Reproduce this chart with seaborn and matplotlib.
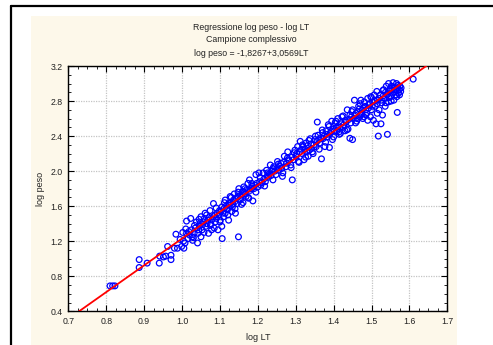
import matplotlib
matplotlib.use("Agg")
import matplotlib.pyplot as plt
import matplotlib.ticker as mticker
from matplotlib.patches import Rectangle
from matplotlib.lines import Line2D
import numpy as np
import pandas as pd
import seaborn as sns

# ---- data ----
log_lt = [
    0.810, 0.817, 0.823, 0.887, 0.887, 0.908, 0.940, 0.941, 0.951, 0.957,
    0.962, 0.971, 0.971, 0.980, 0.984, 0.988, 0.995, 1.002, 0.999, 1.005,
    1.008, 1.012, 1.023, 1.012, 1.016, 1.020, 1.025, 1.028, 1.032, 1.041,
    1.035, 1.038, 1.042, 1.046, 1.050, 1.050, 1.053, 1.057, 1.061, 1.063,
    1.068, 1.070, 1.074, 1.076, 1.078, 1.083, 1.083, 1.085, 1.088, 1.093,
    1.095, 1.099, 1.101, 1.105, 1.106, 1.105, 1.110, 1.114, 1.114, 1.118,
    1.123, 1.123, 1.127, 1.131, 1.133, 1.136, 1.138, 1.141, 1.145, 1.149,
    1.147, 1.150, 1.154, 1.158, 1.161, 1.163, 1.165, 1.169, 1.174, 1.176,
    1.178, 1.183, 1.187, 1.192, 1.195, 1.200, 1.203, 1.205, 1.211, 1.214,
    1.223, 1.225, 1.233, 1.237, 1.242, 1.248, 1.252, 1.265, 1.256, 1.261,
    1.270, 1.274, 1.279, 1.280, 1.291, 1.287, 1.298, 1.301, 1.305, 1.307,
    1.312, 1.317, 1.320, 1.322, 1.327, 1.329, 1.333, 1.338, 1.342, 1.346,
    1.351, 1.357, 1.354, 1.359, 1.363, 1.368, 1.371, 1.372, 1.377, 1.380,
    1.382, 1.386, 1.389, 1.391, 1.395, 1.398, 1.400, 1.404, 1.409, 1.411,
    1.416, 1.418, 1.422, 1.427, 1.431, 1.436, 1.438, 1.443, 1.443, 1.445,
    1.450, 1.450, 1.452, 1.455, 1.459, 1.461, 1.466, 1.469, 1.472, 1.475,
    1.477, 1.481, 1.484, 1.487, 1.490, 1.494, 1.497, 1.498, 1.500, 1.503,
    1.505, 1.507, 1.510, 1.512, 1.514, 1.516, 1.518, 1.520, 1.523, 1.525,
    1.527, 1.529, 1.532, 1.534, 1.536, 1.539, 1.541, 1.542, 1.545, 1.545,
    1.548, 1.551, 1.553, 1.555, 1.557, 1.559, 1.562, 1.564, 1.566, 1.568,
    1.569, 1.571, 1.240, 1.610, 1.018, 1.027, 1.033, 1.044, 1.048, 1.055,
    1.059, 1.066, 1.072, 1.080, 1.087, 1.091, 1.097, 1.103, 1.108, 1.112,
    1.116, 1.120, 1.125, 1.129, 1.134, 1.139, 1.143, 1.152, 1.156, 1.160,
    1.167, 1.171, 1.180, 1.185, 1.190, 1.197, 1.208, 1.216, 1.220, 1.228,
    1.230, 1.235, 1.245, 1.250, 1.258, 1.263, 1.268, 1.276, 1.283, 1.290,
    1.294, 1.303, 1.310, 1.315, 1.325, 1.331, 1.336, 1.340, 1.348, 1.356,
    1.361, 1.366, 1.375, 1.384, 1.393, 1.402, 1.407, 1.413, 1.420, 1.425,
    1.433, 1.440, 1.447, 1.457, 1.463, 1.468, 1.474, 1.479, 1.485, 1.492,
    1.496, 1.502, 1.509, 1.515, 1.521, 1.526, 1.531, 1.537, 1.543, 1.549,
    1.554, 1.560, 1.565, 1.570, 1.573, 1.575, 1.577, 1.574, 1.578, 1.567,
    1.560, 1.552, 1.546, 1.538, 1.480, 1.490, 1.470, 1.462, 1.430, 1.415,
    1.004, 1.010, 1.030, 1.045, 1.058, 1.065, 1.075, 1.090, 1.100, 1.112,
    1.121, 1.130, 1.140, 1.148, 1.157, 1.166, 1.175, 1.184, 1.195, 1.206,
    1.218, 1.226, 1.240, 1.254, 1.266, 1.278, 1.288, 1.296, 1.309, 1.318,
    1.326, 1.335, 1.344, 1.352, 1.362, 1.370, 1.379, 1.388, 1.397, 1.406,
    1.415, 1.425, 1.435, 1.448, 1.458, 1.470, 1.485, 1.500, 1.515, 1.530,
]
log_peso = [
    0.69, 0.69, 0.69, 0.99, 0.90, 0.95, 0.95, 1.03, 1.02, 1.03,
    1.14, 0.99, 1.04, 1.12, 1.28, 1.12, 1.22, 1.30, 1.14, 1.12,
    1.18, 1.43, 1.46, 1.29, 1.23, 1.27, 1.33, 1.21, 1.29, 1.18,
    1.35, 1.42, 1.29, 1.37, 1.48, 1.25, 1.33, 1.42, 1.52, 1.37,
    1.44, 1.29, 1.55, 1.40, 1.33, 1.63, 1.48, 1.35, 1.42, 1.52,
    1.33, 1.55, 1.44, 1.37, 1.23, 1.59, 1.48, 1.67, 1.52, 1.57,
    1.63, 1.44, 1.71, 1.54, 1.59, 1.67, 1.74, 1.52, 1.63, 1.25,
    1.71, 1.80, 1.67, 1.73, 1.64, 1.82, 1.76, 1.71, 1.86, 1.69,
    1.90, 1.80, 1.66, 1.84, 1.96, 1.82, 1.98, 1.88, 1.87, 1.98,
    2.01, 1.94, 2.07, 2.00, 2.05, 1.96, 2.11, 1.94, 2.01, 2.09,
    2.17, 2.05, 2.22, 2.13, 1.90, 2.07, 2.24, 2.17, 2.28, 2.11,
    2.34, 2.20, 2.28, 2.13, 2.32, 2.22, 2.17, 2.37, 2.26, 2.20,
    2.36, 2.56, 2.28, 2.41, 2.32, 2.14, 2.44, 2.37, 2.28, 2.46,
    2.39, 2.53, 2.27, 2.43, 2.57, 2.48, 2.39, 2.55, 2.46, 2.60,
    2.50, 2.43, 2.62, 2.53, 2.58, 2.70, 2.48, 2.64, 2.375, 2.55,
    2.36, 2.70, 2.60, 2.81, 2.66, 2.57, 2.74, 2.62, 2.81, 2.70,
    2.60, 2.79, 2.74, 2.66, 2.83, 2.76, 2.62, 2.85, 2.70, 2.79,
    2.58, 2.87, 2.74, 2.54, 2.91, 2.81, 2.40, 2.70, 2.87, 2.54,
    2.78, 2.64, 2.93, 2.83, 2.74, 2.97, 2.87, 2.42, 3.00, 2.79,
    2.91, 2.85, 2.97, 2.89, 3.01, 2.81, 2.93, 2.87, 3.00, 2.67,
    2.95, 2.89, 2.03, 3.05, 1.31, 1.25, 1.38, 1.33, 1.41, 1.39,
    1.46, 1.40, 1.47, 1.45, 1.50, 1.46, 1.50, 1.54, 1.52, 1.58,
    1.60, 1.56, 1.61, 1.64, 1.62, 1.65, 1.69, 1.72, 1.70, 1.77,
    1.74, 1.79, 1.78, 1.83, 1.80, 1.86, 1.84, 1.91, 1.88, 1.93,
    1.97, 1.95, 2.00, 2.03, 2.06, 2.03, 2.10, 2.09, 2.12, 2.16,
    2.13, 2.20, 2.22, 2.25, 2.25, 2.29, 2.24, 2.31, 2.30, 2.34,
    2.36, 2.38, 2.40, 2.42, 2.45, 2.46, 2.50, 2.52, 2.54, 2.50,
    2.56, 2.59, 2.62, 2.64, 2.68, 2.71, 2.66, 2.72, 2.70, 2.72,
    2.77, 2.74, 2.80, 2.77, 2.83, 2.81, 2.86, 2.90, 2.88, 2.94,
    2.93, 2.96, 2.92, 2.98, 2.93, 2.97, 2.91, 2.87, 2.95, 2.85,
    2.90, 2.80, 2.84, 2.78, 2.62, 2.58, 2.64, 2.60, 2.46, 2.45,
    1.20, 1.34, 1.24, 1.45, 1.30, 1.50, 1.38, 1.58, 1.42, 1.64,
    1.50, 1.70, 1.57, 1.76, 1.62, 1.80, 1.70, 1.86, 1.76, 1.93,
    1.83, 1.98, 1.90, 2.08, 1.98, 2.15, 2.04, 2.21, 2.10, 2.30,
    2.16, 2.35, 2.22, 2.40, 2.25, 2.47, 2.33, 2.51, 2.36, 2.57,
    2.42, 2.63, 2.47, 2.68, 2.55, 2.77, 2.64, 2.84, 2.66, 2.92,
]
intercept = -1.8267
slope = 3.0569
line_x = [0.70, 1.70]

title_lines = ["Regressione log peso - log LT",
               "Campione complessivo",
               "log peso = -1,8267+3,0569LT"]
x_ticks = [0.7, 0.8, 0.9, 1.0, 1.1, 1.2, 1.3, 1.4, 1.5, 1.6, 1.7]
y_ticks = [0.4, 0.8, 1.2, 1.6, 2.0, 2.4, 2.8, 3.2]

df = pd.DataFrame({"log LT": log_lt, "log peso": log_peso})
line_df = pd.DataFrame({"x": line_x,
                        "y": [intercept + slope * v for v in line_x]})

sns.set_style("white")
plt.rcParams["font.family"] = ["Liberation Sans", "DejaVu Sans"]

W, H = 493, 345
fig = plt.figure(figsize=(W / 100, H / 100), dpi=100)
fig.patch.set_facecolor("white")

def fx(px):
    return px / W
def fy(py):
    return 1 - py / H

# cream panel and black frame (pixel coordinates)
fig.patches.append(Rectangle((fx(31), 0), fx(457) - fx(31), fy(16),
                             transform=fig.transFigure, facecolor="#fdf8ea",
                             edgecolor="none", zorder=-10))
fig.lines.append(Line2D([fx(11), fx(11)], [0, fy(5.5)], transform=fig.transFigure,
                        color="black", lw=1.6, zorder=-5))
fig.lines.append(Line2D([fx(11), 1], [fy(5.5), fy(5.5)], transform=fig.transFigure,
                        color="black", lw=1.6, zorder=-5))

ax = fig.add_axes([fx(68.3), fy(311.3), fx(447.3) - fx(68.3), fy(66) - fy(311.3)])
ax.set_zorder(1)
ax.set_facecolor("white")

sns.lineplot(data=line_df, x="x", y="y", ax=ax, color="#ff0000", lw=1.3, zorder=3)
sns.scatterplot(data=df, x="log LT", y="log peso", ax=ax, s=17, marker="o",
                linewidth=0.9, zorder=2)
coll = ax.collections[-1]
coll.set_facecolor("none")
coll.set_edgecolor("#0000ff")

ax.set_xlim(0.7, 1.7)
ax.set_ylim(0.4, 3.2)
ax.set_xticks(x_ticks)
ax.set_yticks(y_ticks)
ax.xaxis.set_major_formatter(mticker.FormatStrFormatter("%.1f"))
ax.yaxis.set_major_formatter(mticker.FormatStrFormatter("%.1f"))
ax.xaxis.set_minor_locator(mticker.MultipleLocator(0.025))
ax.yaxis.set_minor_locator(mticker.MultipleLocator(0.1))
ax.tick_params(which="both", direction="in", top=True, right=True,
               bottom=True, left=True, colors="black", labelcolor="#222222")
ax.tick_params(which="major", length=4, width=0.8, labelsize=6.3, pad=4)
ax.tick_params(which="minor", length=2, width=0.6)
ax.grid(True, which="major", color="#c4c4c4", linestyle=(0, (1, 1)), lw=0.9)
ax.set_axisbelow(True)
for sp in ax.spines.values():
    sp.set_visible(True)
    sp.set_color("black")
    sp.set_linewidth(1.0)

ax.set_xlabel("log LT", fontsize=6.5, color="#222222", labelpad=5)
ax.set_ylabel("log peso", fontsize=6.5, color="#222222", labelpad=4)

for txt, py in zip(title_lines, [27.7, 40.0, 53.7]):
    fig.text(fx(251), fy(py), txt, ha="center", va="center", fontsize=6.3,
             color="#222222")

fig.savefig("out.png", dpi=100)
